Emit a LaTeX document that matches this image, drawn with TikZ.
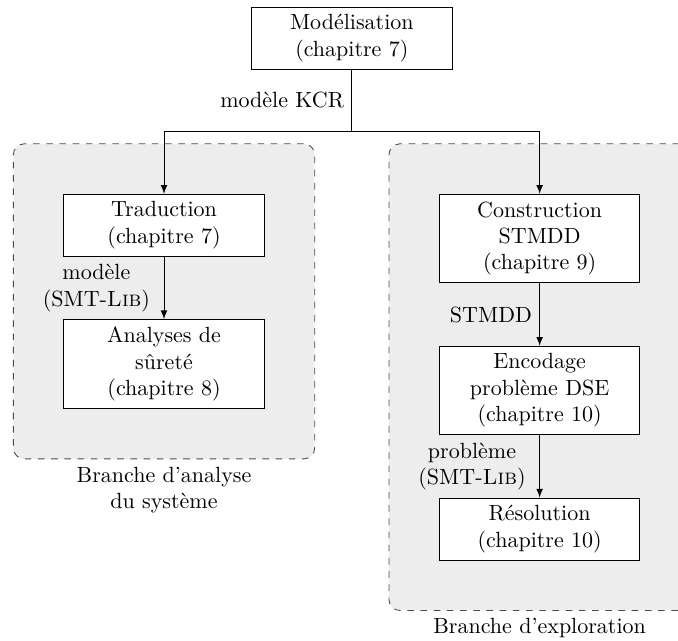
\documentclass[tikz,border=0pt]{standalone}
\usepackage{fontspec}
\usetikzlibrary{positioning,fit,backgrounds}
\tikzset{
  etape/.style={draw, align=center, minimum width=3.2cm, fill=white},
  branche/.style={draw=black!70, dashed, rounded corners=5pt, fill=black!7, inner sep=0.8cm},
  lien/.style={->, >=latex},
}
\newcommand{\smtlib}{SMT-\textsc{Lib}}
\begin{document}
\begin{tikzpicture}
  \useasboundingbox (-5.62,0.607) rectangle (5.21,-9.62);
  \node[etape] (model) at (0,0) {Modélisation\\(chapitre 7)};
  \coordinate (split) at (0,-1.49);
  \node[etape, anchor=north] (trad) at (-3,-2.49) {Traduction\\(chapitre 7)};
  \node[etape, below=1cm of trad] (surete) {Analyses de\\sûreté\\(chapitre 8)};
  \node[etape, anchor=north] (constr) at (3,-2.49) {Construction\\STMDD\\(chapitre 9)};
  \node[etape, below=1cm of constr] (encod) {Encodage\\problème DSE\\(chapitre 10)};
  \node[etape, below=1cm of encod] (resol) {Résolution\\(chapitre 10)};
  \begin{scope}[on background layer]
    \node[branche, fit=(trad) (surete),
      label={[align=center]below:Branche d'analyse\\du système}] (analyse) {};
    \node[branche, fit=(constr) (resol),
      label={[align=center]below:Branche d'exploration}] (explo) {};
  \end{scope}
  \draw (model) -- node[left] {modèle KCR} (split);
  \draw[lien] (split) -| (trad);
  \draw[lien] (split) -| (constr);
  \draw[lien] (trad) -- node[left, align=center, xshift=-1mm] {modèle\\(\smtlib)} (surete);
  \draw[lien] (constr) -- node[left] {STMDD} (encod);
  \draw[lien] (encod) -- node[left, align=center, xshift=-1mm] {problème\\(\smtlib)} (resol);
\end{tikzpicture}
\end{document}
